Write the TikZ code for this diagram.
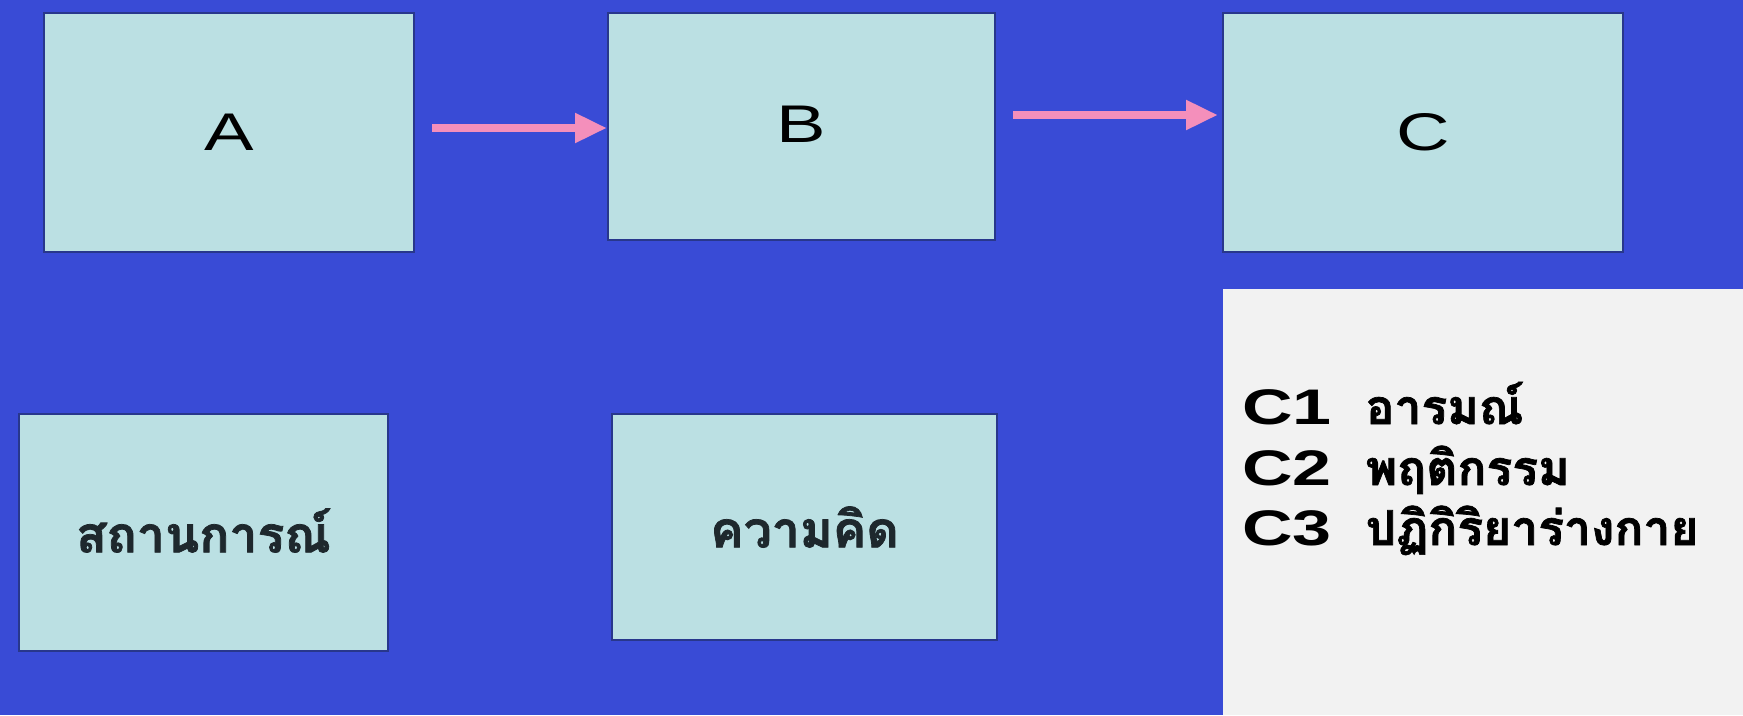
\documentclass[tikz,border=0pt]{standalone}
\usepackage{fontspec}
\setmainfont{Liberation Sans}[FakeStretch=1.4]
\newfontfamily\thaifont[Script=Thai,BoldFeatures={FakeBold=1.5}]{Loma}
\usetikzlibrary{arrows.meta}
\definecolor{bgblue}{RGB}{57,75,214}
\definecolor{boxfill}{RGB}{187,224,227}
\definecolor{boxedge}{RGB}{40,55,140}
\definecolor{arrpink}{RGB}{244,143,187}
\definecolor{panelgrey}{RGB}{242,242,242}
\definecolor{thaiink}{RGB}{30,40,45}
\tikzset{
  box/.style={draw=boxedge, line width=2pt, fill=boxfill, inner sep=0pt},
  bigletter/.style={font=\fontsize{53pt}{60pt}\selectfont},
  thaibox/.style={font=\fontsize{50pt}{58pt}\selectfont\thaifont\bfseries, text=thaiink},
  legline/.style={anchor=base west, inner sep=0pt, font=\fontsize{50pt}{56pt}\selectfont\bfseries},
  pinkarrow/.style={draw=arrpink, line width=8pt, -{Triangle[length=32pt,width=28pt]}}
}
\begin{document}
\begin{tikzpicture}[x=1pt,y=-1pt]
\fill[bgblue] (0,0) rectangle (1743,715);
\useasboundingbox (0,0) rectangle (1743,715);
\node[box, minimum width=370pt, minimum height=239pt] (A) at (229,132.5) {};
\node[box, minimum width=387pt, minimum height=227pt] (B) at (801.5,126.5) {};
\node[box, minimum width=400pt, minimum height=239pt] (C) at (1423,132.5) {};
\node[box, minimum width=369pt, minimum height=237pt] (S) at (203.5,532.5) {};
\node[box, minimum width=385pt, minimum height=226pt] (T) at (804.5,527) {};
\node[bigletter] (Alab) at (A.center) {A};
\node[bigletter] (Blab) at ([yshift=2pt]B.center) {B};
\node[bigletter] (Clab) at (C.center) {C};
\node[thaibox] (Slab) at ([yshift=2pt]S.center) {สถานการณ์};
\node[thaibox] (Tlab) at (T.center) {ความคิด};
\node[fill=panelgrey, inner sep=0pt, minimum width=520pt, minimum height=426pt] (panel) at (1483,502) {};
\node[legline] (L1) at (1242,424) {C1\hspace{34pt}{\thaifont\fontsize{48pt}{54pt}\selectfont อารมณ์}};
\node[legline] (L2) at (1242,485) {C2\hspace{34pt}{\thaifont\fontsize{48pt}{54pt}\selectfont พฤติกรรม}};
\node[legline] (L3) at (1242,545) {C3\hspace{34pt}{\thaifont\fontsize{48pt}{54pt}\selectfont ปฏิกิริยาร่างกาย}};
\draw[pinkarrow] ([xshift=17pt,yshift=4.5pt]A.east) -- ([yshift=-1.5pt]B.west);
\draw[pinkarrow] ([xshift=17pt,yshift=11.5pt]B.east) -- ([xshift=-4pt,yshift=17.5pt]C.west);
\end{tikzpicture}
\end{document}
